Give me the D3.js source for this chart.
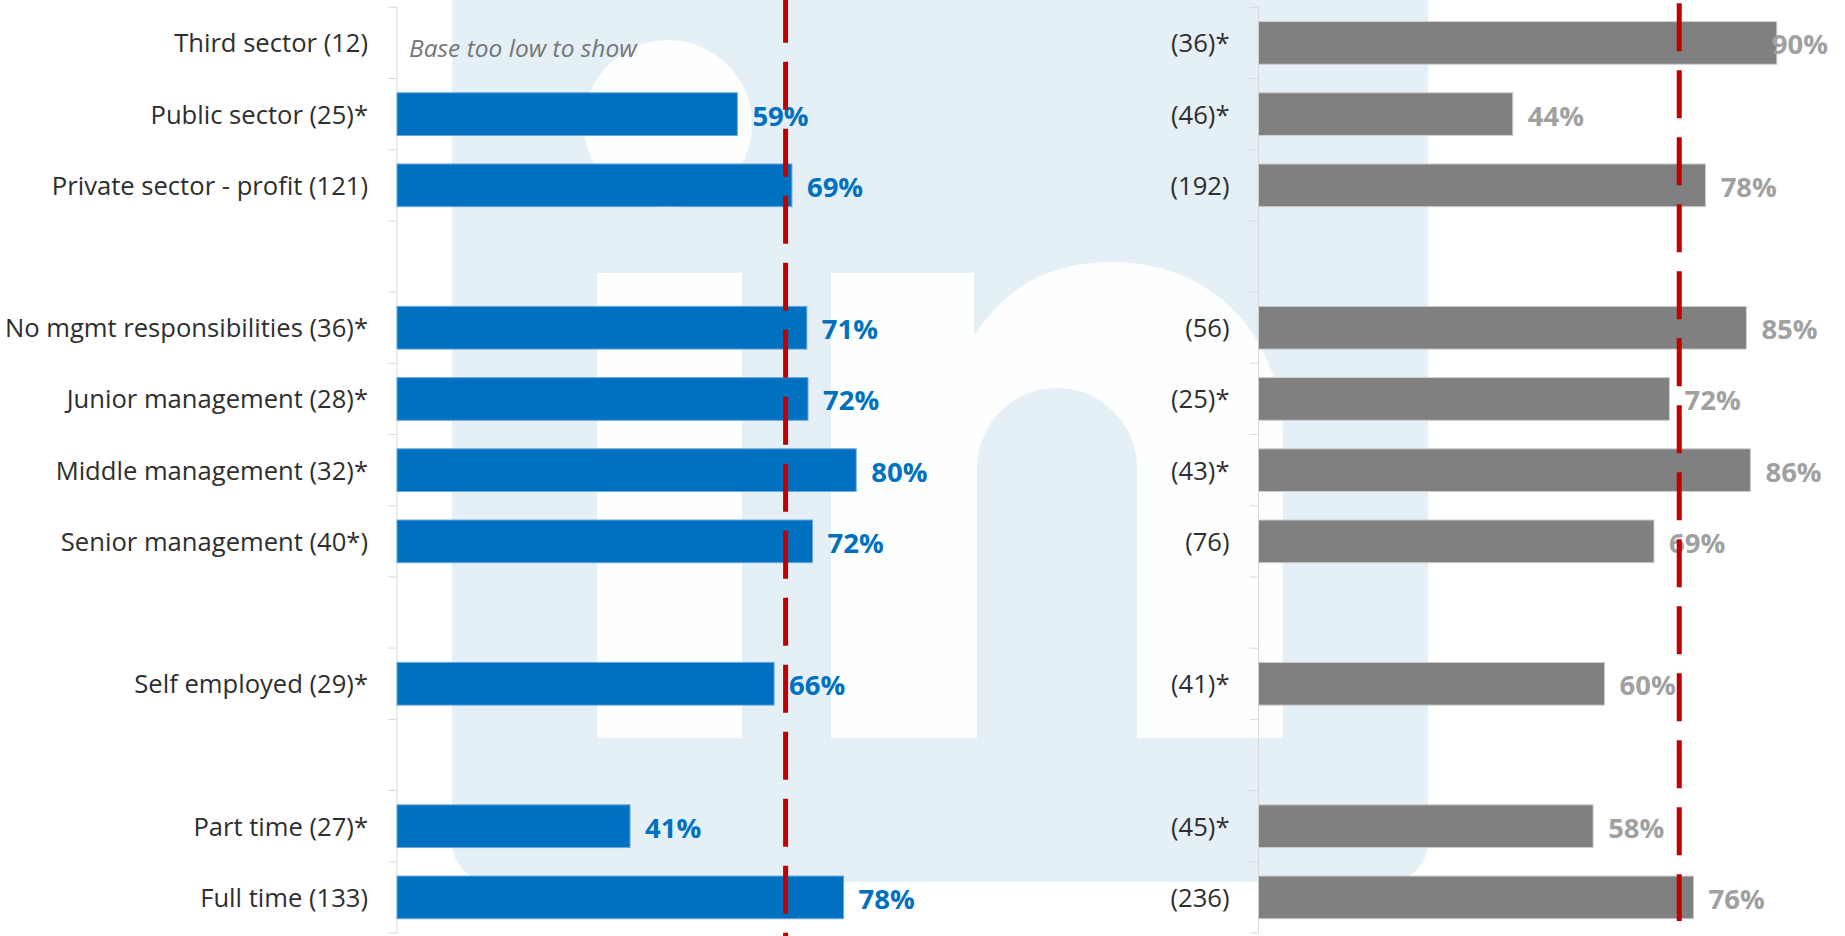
<!DOCTYPE html>
<html>
<head>
<meta charset="utf-8">
<script src="https://cdn.jsdelivr.net/npm/d3@7"></script>
<style>
  html, body { margin: 0; padding: 0; background: #ffffff; }
  svg { display: block; }
  text { font-family: "Open Sans", "Noto Sans", sans-serif; }
</style>
</head>
<body>
<svg id="chart" width="1845" height="936"></svg>
<script>
// ---------------- DATA ----------------
const rowIds = d3.range(13);
const categoriesLeft = [
  "Third sector (12)", "Public sector (25)*", "Private sector - profit (121)", "",
  "No mgmt responsibilities (36)*", "Junior management (28)*", "Middle management (32)*",
  "Senior management (40*)", "", "Self employed (29)*", "", "Part time (27)*", "Full time (133)"
];
const categoriesRight = [
  "(36)*", "(46)*", "(192)", "", "(56)", "(25)*", "(43)*", "(76)", "", "(41)*", "", "(45)*", "(236)"
];
const valuesLeft  = [null, 59.3, 68.8, null, 71.4, 71.6, 80.0, 72.4, null, 65.7, null, 40.6, 77.8];
const valuesRight = [90.3, 44.3, 77.9, null, 85.0, 71.6, 85.7, 68.9, null, 60.3, null, 58.3, 75.8];
const benchmarkLeft = 67.7;
const benchmarkRight = 73.3;
const noteRow = 0;
const noteText = "Base too low to show";

// ---------------- LAYOUT ----------------
const W = 1845, H = 936;
const svg = d3.select("#chart");
svg.append("rect").attr("width", W).attr("height", H).attr("fill", "#ffffff");

// background watermark (decorative "in" logo)
const wm = svg.append("g");
wm.append("rect").attr("x", 452).attr("y", -60).attr("width", 976).attr("height", 942)
  .attr("rx", 40).attr("fill", "#e4eff6");
wm.append("circle").attr("cx", 668).attr("cy", 124).attr("r", 84).attr("fill", "#fdfefe");
wm.append("rect").attr("x", 597).attr("y", 273).attr("width", 145).attr("height", 465).attr("fill", "#fdfefe");
wm.append("path")
  .attr("d", "M831,273 H974 V336 C1010,280 1058,262 1113,262 C1205,262 1283,328 1283,440 V738 H1137 V468 A80,80 0 0 0 977,468 V738 H831 Z")
  .attr("fill", "#fdfefe");

const y = d3.scaleBand().domain(rowIds).range([7.3, 933]).paddingInner(0.4).paddingOuter(0.2);
const xL = d3.scaleLinear().domain([0, 100]).range([397, 971]);
const xR = d3.scaleLinear().domain([0, 100]).range([1258.5, 1832.5]);
const rightLimit = 1828;

const step = y.step();
const y0 = y.range()[0];
const boundaries = d3.range(rowIds.length + 1).map(i => y0 + i * step);
const cy = i => y(i) + y.bandwidth() / 2;

function drawPanel(x, cats, vals, barColor, barStroke, labelColor, bench, benchY1, benchY2) {
  const g = svg.append("g");
  const ax = x(0);
  // axis line & ticks
  g.append("line").attr("x1", ax).attr("x2", ax)
    .attr("y1", boundaries[0]).attr("y2", boundaries[boundaries.length - 1])
    .attr("stroke", "#d9d9d9").attr("stroke-width", 1);
  g.selectAll(".tick").data(boundaries).enter().append("line")
    .attr("x1", ax - 9).attr("x2", ax).attr("y1", d => d).attr("y2", d => d)
    .attr("stroke", "#d9d9d9").attr("stroke-width", 1);
  // category labels
  g.selectAll(".cat").data(rowIds.filter(i => cats[i] !== "")).enter().append("text")
    .attr("x", ax - 29).attr("y", i => cy(i) + 9.5)
    .attr("text-anchor", "end").attr("font-size", 25.6).attr("fill", "#2e2e2e")
    .text(i => cats[i]);
  // bars
  const rows = rowIds.filter(i => vals[i] != null);
  g.selectAll(".bar").data(rows).enter().append("rect")
    .attr("x", ax).attr("y", i => y(i))
    .attr("width", i => x(vals[i]) - ax).attr("height", y.bandwidth())
    .attr("fill", barColor).attr("stroke", barStroke).attr("stroke-width", 1);
  // value labels
  g.selectAll(".val").data(rows).enter().append("text")
    .attr("y", i => cy(i) + 11.5)
    .attr("font-size", 27.5).attr("font-weight", 700).attr("fill", labelColor)
    .text(i => d3.format(".0f")(vals[i]) + "%")
    .attr("x", function(i) {
      const w = this.getComputedTextLength();
      return Math.min(x(vals[i]) + 15, rightLimit - w);
    });
  // benchmark dashed line
  svg.append("line").attr("class", "bench")
    .attr("x1", x(bench)).attr("x2", x(bench)).attr("y1", benchY1).attr("y2", benchY2)
    .attr("stroke", "#c00000").attr("stroke-width", 5).attr("stroke-dasharray", "48 19");
}

drawPanel(xL, categoriesLeft, valuesLeft, "#0070c0", "#6fa8dc", "#0070c0", benchmarkLeft, -5.3, 940);
drawPanel(xR, categoriesRight, valuesRight, "#808080", "#cfcfcf", "#a0a0a0", benchmarkRight, 3.3, 921);

// note for row with too small base
svg.append("text")
  .attr("x", xL(0) + 12).attr("y", cy(noteRow) + 14)
  .attr("font-size", 24.5).attr("font-style", "italic").attr("fill", "#767676")
  .text(noteText);

// bring benchmark lines to front
svg.selectAll(".bench").raise();
</script>
</body>
</html>
